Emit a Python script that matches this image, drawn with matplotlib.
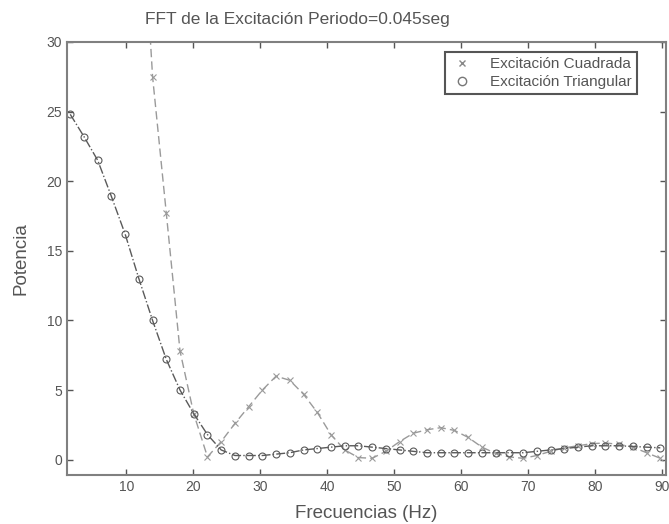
import matplotlib
matplotlib.use("Agg")
import matplotlib.pyplot as plt
from matplotlib.lines import Line2D

plt.rcParams['font.family'] = ['Liberation Sans', 'DejaVu Sans']

freqs = [1.6, 3.65, 5.7, 7.75, 9.8, 11.85, 13.9, 15.95, 18.0, 20.05, 22.1, 24.15,
         26.2, 28.25, 30.3, 32.35, 34.4, 36.45, 38.5, 40.55, 42.6, 44.65, 46.7,
         48.75, 50.8, 52.85, 54.9, 56.95, 59.0, 61.05, 63.1, 65.15, 67.2, 69.25,
         71.3, 73.35, 75.4, 77.45, 79.5, 81.55, 83.6, 85.65, 87.7, 89.75]

cuadrada = [120, 110, 95, 80, 62, 44, 27.5, 17.7, 7.8, 3.3, 0.2, 1.3,
            2.6, 3.8, 5.0, 6.0, 5.7, 4.7, 3.4, 1.8, 0.7, 0.15, 0.1,
            0.6, 1.3, 1.9, 2.15, 2.3, 2.1, 1.6, 0.9, 0.45, 0.2, 0.1,
            0.3, 0.6, 0.85, 1.0, 1.15, 1.2, 1.1, 0.9, 0.5, 0.1]

triangular = [24.8, 23.2, 21.5, 18.9, 16.2, 13.0, 10.0, 7.2, 5.0, 3.3, 1.8, 0.7,
              0.3, 0.3, 0.3, 0.4, 0.5, 0.7, 0.8, 0.9, 1.0, 1.0, 0.9,
              0.8, 0.7, 0.6, 0.5, 0.5, 0.5, 0.5, 0.5, 0.5, 0.5, 0.5,
              0.6, 0.7, 0.8, 0.9, 1.0, 1.0, 1.0, 0.95, 0.9, 0.85]

xticks = [10, 20, 30, 40, 50, 60, 70, 80, 90]
yticks = [0, 5, 10, 15, 20, 25, 30]

fig = plt.figure(figsize=(6.69, 5.24), dpi=100)
ax = fig.add_axes([0.100, 0.0935, 0.8955, 0.8265])

ax.plot(freqs, cuadrada, linestyle='--', color='#9a9a9a', linewidth=1.0,
        marker='x', markersize=4, markeredgewidth=0.8, dashes=(6, 3))
ax.plot(freqs, triangular, linestyle='-.', color='#5a5a5a', linewidth=1.0,
        marker='o', markersize=5, markerfacecolor='none', markeredgewidth=0.8)

ax.set_xlim(1.1, 90.6)
ax.set_ylim(-1.1, 30)
ax.set_xticks(xticks)
ax.set_yticks(yticks)
ax.tick_params(direction='in', top=True, right=True, length=4, width=1,
               colors='#555555', labelsize=10, labelcolor='#555555')
for s in ax.spines.values():
    s.set_color('#808080')
    s.set_linewidth(1.5)

ax.set_title('FFT de la Excitación Periodo=0.045seg', fontsize=12.5,
             color='#555555', x=0.384, pad=13)
ax.set_xlabel('Frecuencias (Hz)', fontsize=13.5, color='#555555', labelpad=8)
ax.set_ylabel('Potencia', fontsize=13.5, color='#555555', labelpad=12)

handles = [Line2D([], [], linestyle='none', marker='x', color='#888888', markersize=5),
           Line2D([], [], linestyle='none', marker='o', color='#777777',
                  markerfacecolor='none', markersize=6)]
leg = ax.legend(handles, ['Excitación Cuadrada', 'Excitación Triangular'],
                loc='upper right', bbox_to_anchor=(0.9516, 0.977), fontsize=11,
                fancybox=False, framealpha=1, edgecolor='#555555',
                handlelength=1.6, handletextpad=1.0, borderpad=0.35,
                labelspacing=0.25, borderaxespad=0)
leg.get_frame().set_linewidth(1.5)
for t in leg.get_texts():
    t.set_color('#555555')

fig.savefig('out.png', dpi=100)
